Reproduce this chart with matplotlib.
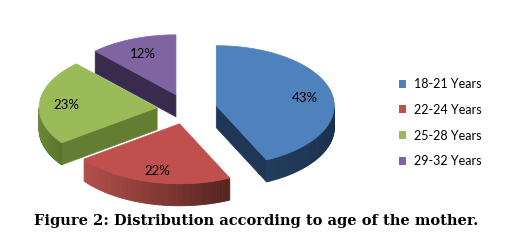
import numpy as np
import matplotlib
matplotlib.use('Agg')
import matplotlib.pyplot as plt
from matplotlib.patches import Polygon, Patch
from matplotlib.colors import to_rgb

# Datos: distribución por edad de la madre
etiquetas = ['18-21 Years', '22-24 Years', '25-28 Years', '29-32 Years']
porcentajes = [43, 22, 23, 12]
titulo = 'Figure 2: Distribution according to age of the mother.'

# Estilo (colores tipo Excel 2007)
color_top = ['#4F81BD', '#C0504D', '#9BBB59', '#8064A2']
lado_claro = ['#233B5C', '#B34E4B', '#6A8738', '#3B2D52']
lado_oscuro = ['#1C3150', '#55231F', '#5B742E', '#35284A']

# Geometría del pastel 3D (en píxeles)
CX, CY = 187, 109
RX, RY = 118, 60
PROF = 22
EXPL = 30


def punto(t, cx, cy, r=1.0):
    t = np.radians(t)
    return cx + RX * r * np.sin(t), cy - RY * r * np.cos(t)


def mezcla(c1, c2, f):
    a, b = np.array(to_rgb(c1)), np.array(to_rgb(c2))
    return tuple(a + (b - a) * f)


fig = plt.figure(figsize=(5.12, 2.43), dpi=100, facecolor='white')
ax = fig.add_axes([0, 0, 1, 1])
ax.set_xlim(0, 512)
ax.set_ylim(243, 0)
ax.set_axis_off()

fracs = np.array(porcentajes) / sum(porcentajes)
inicios = np.concatenate([[0], np.cumsum(fracs)[:-1]]) * 360
finales = np.cumsum(fracs) * 360

piezas = []
for i in range(len(porcentajes)):
    a, b = inicios[i], finales[i]
    m = (a + b) / 2
    cx = CX + EXPL * np.sin(np.radians(m))
    cy = CY - EXPL * np.cos(np.radians(m)) * RY / RX
    piezas.append((cy, i, a, b, m, cx))

# de atrás hacia adelante
for cy, i, a, b, m, cx in sorted(piezas):
    lado = mezcla(lado_claro[i], lado_oscuro[i], 0.5)
    # caras radiales visibles
    for ang, sgn in ((a, -1), (b, 1)):
        normal = np.radians(ang + sgn * 90)
        if np.cos(normal) < -1e-6:
            px, py = punto(ang, cx, cy)
            quad = [(cx, cy), (px, py), (px, py + PROF), (cx, cy + PROF)]
            ax.add_patch(Polygon(quad, closed=True, facecolor=lado,
                                 edgecolor=lado, linewidth=0.5))
    # pared exterior (sólo la mitad frontal)
    lo, hi = max(a, 90), min(b, 270)
    if hi > lo:
        ts = np.linspace(lo, hi, 60)
        xs = [punto(t, cx, cy)[0] for t in ts]
        xmin, xmax = min(xs), max(xs)
        for t0, t1 in zip(ts[:-1], ts[1:]):
            x0, y0 = punto(t0, cx, cy)
            x1, y1 = punto(t1, cx, cy)
            f = ((x0 + x1) / 2 - xmin) / max(xmax - xmin, 1)
            c = mezcla(lado_claro[i], lado_oscuro[i], f)
            ax.add_patch(Polygon([(x0, y0), (x1, y1), (x1, y1 + PROF), (x0, y0 + PROF)],
                                 closed=True, facecolor=c, edgecolor=c, linewidth=0.6))
    # cara superior
    ts = np.linspace(a, b, 100)
    borde = [punto(t, cx, cy) for t in ts]
    ax.add_patch(Polygon([(cx, cy)] + borde, closed=True, facecolor=color_top[i],
                         edgecolor=color_top[i], linewidth=0.5))
    lx, ly = punto(m, cx, cy, 0.77)
    ax.text(lx, ly + 2, f'{porcentajes[i]}%', ha='center', va='center',
            fontsize=9.5, family='Lato', color='black')

handles = [Patch(facecolor=c, edgecolor='none') for c in color_top]
ax.legend(handles, etiquetas, loc='upper left', bbox_to_anchor=(0.757, 0.725),
          frameon=False, prop={'family': 'Lato', 'size': 9},
          handlelength=0.6, handleheight=0.6, handletextpad=0.6, labelspacing=1.1)

fig.text(0.5, 1 - 221 / 243, titulo, ha='center', va='center',
         fontsize=10.5, fontweight='bold', family='DejaVu Serif', color='black')

fig.savefig('out.png', dpi=100, facecolor='white')
